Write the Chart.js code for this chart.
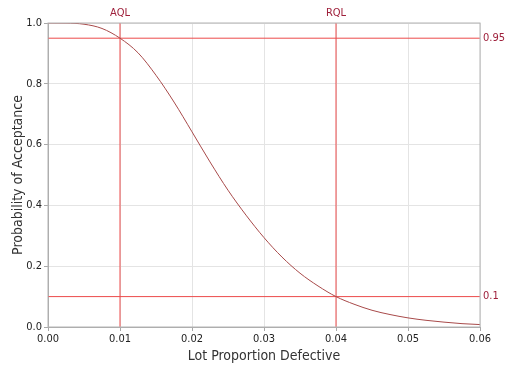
<!DOCTYPE html>
<html>
<head>
<meta charset="utf-8">
<script src="https://cdn.jsdelivr.net/npm/chart.js@4.4.1/dist/chart.umd.min.js"></script>
<style>
  html, body { margin: 0; padding: 0; background: #fff; }
  #wrap { width: 508px; height: 371px; }
</style>
</head>
<body>
<div id="wrap"><canvas id="ocChart" width="508" height="371"></canvas></div>
<script>
// OC curve
let defectRates = [0, 0.0025, 0.005, 0.0075, 0.01, 0.0125, 0.015, 0.0175, 0.02, 0.0225, 0.025, 0.0275,
    0.03, 0.0325, 0.035, 0.0375, 0.04, 0.0425, 0.045, 0.0475, 0.05, 0.0525, 0.055, 0.0575, 0.06];
let acceptProb = [1.0, 0.9997, 0.996, 0.982, 0.950, 0.902, 0.828, 0.740, 0.642, 0.543, 0.450, 0.368,
    0.294, 0.230, 0.177, 0.135, 0.100, 0.075, 0.055, 0.041, 0.030, 0.022, 0.016, 0.011, 0.008];

// reference lines
let qualityLevels = [0.01, 0.04];
let qualityNames = ["AQL", "RQL"];
let probLevels = [0.95, 0.1];
let probNames = ["0.95", "0.1"];

let xTicks = [0, 0.01, 0.02, 0.03, 0.04, 0.05, 0.06];
let yTicks = [0, 0.2, 0.4, 0.6, 0.8, 1.0];

const tickFont = { family: "Tahoma, 'DejaVu Sans Condensed', 'Liberation Sans'", size: 11 };
const titleFont = { family: "Tahoma, 'DejaVu Sans Condensed', 'Liberation Sans'", size: 14 };
const lineRed = '#ec4a4a';
const labelRed = '#9e1f3a';

let datasets = [{
    data: defectRates.map((p, i) => ({ x: p, y: acceptProb[i] })),
    borderColor: '#a84a4a',
    borderWidth: 1,
    pointRadius: 0,
    cubicInterpolationMode: 'monotone',
    order: 0
}];
qualityLevels.forEach(q => {
    datasets.push({
        data: [{ x: q, y: 0 }, { x: q, y: 1 }],
        borderColor: lineRed, borderWidth: 1, pointRadius: 0, order: 1
    });
});
probLevels.forEach(p => {
    datasets.push({
        data: [{ x: 0, y: p }, { x: 0.06, y: p }],
        borderColor: lineRed, borderWidth: 1, pointRadius: 0, order: 1
    });
});

const frame = {
    id: 'frame',
    afterDatasetsDraw(chart) {
        let a = chart.chartArea;
        let c = chart.ctx;
        c.save();
        c.strokeStyle = '#b4b4b4';
        c.lineWidth = 1;
        c.strokeRect(a.left, a.top, a.right - a.left, a.bottom - a.top);
        c.restore();
    }
};

let ctx = document.getElementById("ocChart").getContext('2d');
let myChart = new Chart(ctx, {
    type: 'line',
    data: { datasets: datasets },
    plugins: [frame],
    options: {
        responsive: false,
        animation: false,
        layout: { padding: 0 },
        plugins: { legend: { display: false }, tooltip: { enabled: false } },
        scales: {
            x: {
                type: 'linear', position: 'bottom', min: 0, max: 0.06,
                afterBuildTicks: s => { s.ticks = xTicks.map(v => ({ value: v })); },
                afterFit: s => { s.height = 44; },
                ticks: { font: tickFont, color: '#222', padding: 2, maxRotation: 0,
                    callback: v => v.toFixed(2) },
                grid: { color: '#e4e4e4', tickLength: 4, tickColor: '#a8a8a8' },
                border: { color: '#a8a8a8' },
                title: { display: true, text: 'Lot Proportion Defective', font: titleFont,
                    color: '#333', padding: { top: 0, bottom: 6 } }
            },
            xTop: {
                type: 'linear', position: 'top', min: 0, max: 0.06,
                afterBuildTicks: s => { s.ticks = qualityLevels.map(v => ({ value: v })); },
                afterFit: s => { s.height = 23; },
                ticks: { font: tickFont, color: labelRed, padding: 3, maxRotation: 0,
                    callback: (v, i) => qualityNames[i] },
                grid: { display: false, drawTicks: false },
                border: { display: false }
            },
            y: {
                type: 'linear', position: 'left', min: 0, max: 1,
                afterBuildTicks: s => { s.ticks = yTicks.map(v => ({ value: v })); },
                afterFit: s => { s.width = 48; },
                ticks: { font: tickFont, color: '#222', padding: 2,
                    callback: v => v.toFixed(1) },
                grid: { color: '#e4e4e4', tickLength: 4, tickColor: '#a8a8a8' },
                border: { color: '#a8a8a8' },
                title: { display: true, text: 'Probability of Acceptance', font: titleFont,
                    color: '#333', padding: { top: 10, bottom: 0 } }
            },
            yRight: {
                type: 'linear', position: 'right', min: 0, max: 1,
                afterBuildTicks: s => { s.ticks = probLevels.map(v => ({ value: v })); },
                afterFit: s => { s.width = 28; },
                ticks: { font: tickFont, color: labelRed, padding: 3,
                    callback: (v, i) => probNames[i] },
                grid: { display: false, drawTicks: false },
                border: { display: false }
            }
        }
    }
});
</script>
</body>
</html>
